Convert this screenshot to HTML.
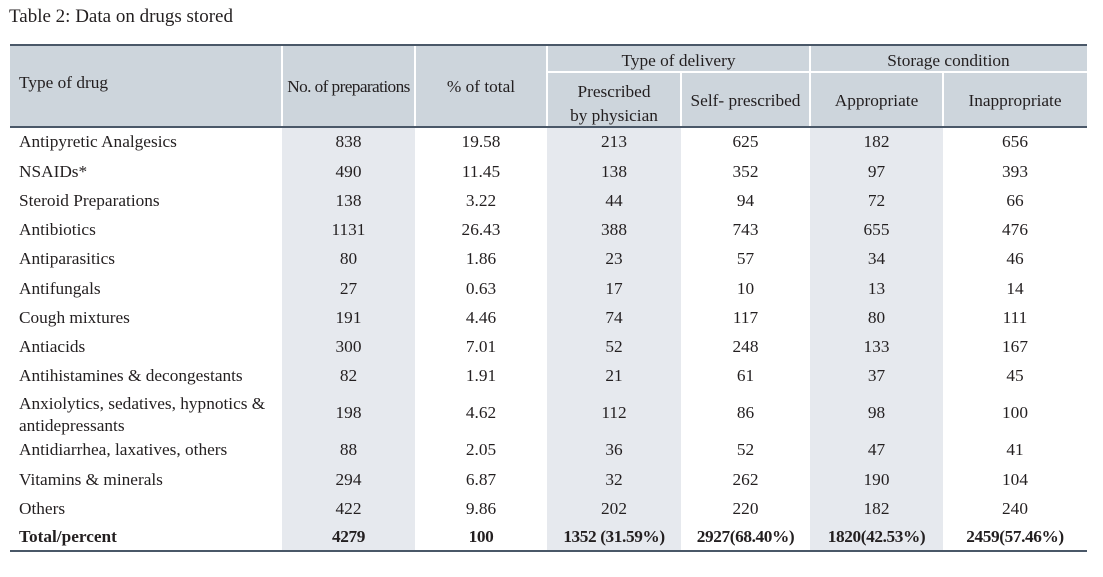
<!DOCTYPE html>
<html><head><meta charset="utf-8"><style>
body{margin:0;width:1103px;height:577px;background:#fff;font-family:"Liberation Serif",serif;color:#231f20;position:relative;overflow:hidden}
.a{position:absolute;box-sizing:border-box}
.t{position:absolute;font-size:17.3px;line-height:18px;white-space:nowrap}
</style></head><body>
<div class="t" style="left:9px;top:8px;font-size:19px">Table 2: Data on drugs stored</div>
<div id="root"></div>
<script>
const drugs=["Antipyretic Analgesics","NSAIDs*","Steroid Preparations","Antibiotics","Antiparasitics","Antifungals","Cough mixtures","Antiacids","Antihistamines & decongestants","Anxiolytics, sedatives, hypnotics &<br>antidepressants","Antidiarrhea, laxatives, others","Vitamins & minerals","Others","Total/percent"];
const preps=["838","490","138","1131","80","27","191","300","82","198","88","294","422","4279"];
const pct=["19.58","11.45","3.22","26.43","1.86","0.63","4.46","7.01","1.91","4.62","2.05","6.87","9.86","100"];
const presc=["213","138","44","388","23","17","74","52","21","112","36","32","202","1352 (31.59%)"];
const selfp=["625","352","94","743","57","10","117","248","61","86","52","262","220","2927(68.40%)"];
const appr=["182","97","72","655","34","13","80","133","37","98","47","190","182","1820(42.53%)"];
const inap=["656","393","66","476","46","14","111","167","45","100","41","104","240","2459(57.46%)"];
const cols=[10,282,415,547,681,810,943,1087];
const heights=[30,29,29,29,30,29,29,29,30,44,30,29,29,28];
const root=document.getElementById('root');
function box(x,y,w,h,bg,name){const d=document.createElement('div');d.className='a';d.style.cssText=`left:${x}px;top:${y}px;width:${w}px;height:${h}px;background:${bg}`;


root.appendChild(d);return d;}
function txt(s,x,y,w,align,name,extra){const d=document.createElement('div');d.className='t';d.innerHTML=s;d.style.cssText=`left:${x}px;top:${y}px;width:${w}px;text-align:${align};${extra||''}`;


root.appendChild(d);return d;}
box(10,45,1077,82,'#cdd5dc','header-background');
[1,3,5].forEach(i=>box(cols[i],127,cols[i+1]-cols[i],424,'#e6e9ee','shaded-column'));
[282,415,547,810].forEach(x=>box(x-1,45,2,82,'#fff','header-divider'));
[681,943].forEach(x=>box(x-1,72,2,55,'#fff','header-divider'));
box(547,71,540,2,'#fff','header-divider');
box(10,44,1077,2,'#4a5868','top-border');
box(10,126,1077,2,'#4a5868','header-border');
box(10,550,1077,2,'#4a5868','bottom-border');
txt('Type of drug',19,74,250,'left','col-header-type');
txt('No. of preparations',282,78,133,'center','col-header-preparations','letter-spacing:-0.6px');
txt('% of total',415,78,132,'center','col-header-percent');
txt('Type of delivery',547,52,263,'center','group-header-delivery');
txt('Storage condition',810,52,277,'center','group-header-storage');
txt('Prescribed<br>by physician',547,80,134,'center','col-header-prescribed','line-height:24px');
txt('Self- prescribed',681,92,129,'center','col-header-self');
txt('Appropriate',810,92,133,'center','col-header-appropriate');
txt('Inappropriate',943,92,144,'center','col-header-inappropriate');
let y=127;
const series=[preps,pct,presc,selfp,appr,inap];
drugs.forEach((d,i)=>{const h=heights[i];const bold=i===drugs.length-1?'font-weight:bold;':'';
 const two=d.includes('<br>');
 txt(d,19,two?y+2:y+(h-18)/2,262,'left','row-label',bold+(two?'line-height:22px;':''));
 series.forEach((s,j)=>txt(s[i],cols[j+1],y+(h-18)/2,cols[j+2]-cols[j+1],'center','cell-value',bold+(i===drugs.length-1?'letter-spacing:-0.4px;':'')));
 y+=h;});
</script>
</body></html>
